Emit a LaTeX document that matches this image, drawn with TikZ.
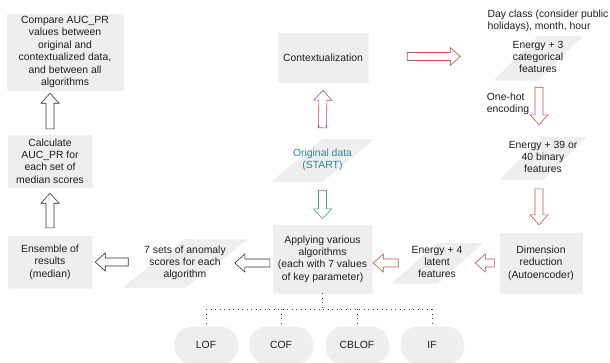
\documentclass[tikz,border=0pt]{standalone}
\usepackage{fontspec}
\setmainfont{Liberation Sans}
\usetikzlibrary{calc,shapes.geometric,shadows}

\newcommand{\blockarrow}[3][arrowblack]{%
  \coordinate (ba-t) at #2;
  \coordinate (ba-p) at #3;
  \coordinate (ba-h) at ($(ba-p)!10pt!(ba-t)$);
  \draw[#1] ($(ba-t)!4pt!90:(ba-p)$) -- ($(ba-h)!4pt!-90:(ba-t)$) -- ($(ba-h)!9pt!-90:(ba-t)$) -- (ba-p)
    -- ($(ba-h)!9pt!90:(ba-t)$) -- ($(ba-h)!4pt!90:(ba-t)$) -- ($(ba-t)!4pt!-90:(ba-p)$) -- cycle;}
\newcommand{\paratext}[1]{\makebox[0pt]{\begin{tabular}{@{}c@{}}#1\end{tabular}}}

\begin{document}
\begin{tikzpicture}[x=1pt,y=-1pt,
  font=\fontsize{10.4}{12.4}\selectfont,
  every node/.style={text=textgray},
  box/.style={rectangle,fill=boxfill,align=center,inner sep=1pt,
    drop shadow={opacity=0.1,shadow xshift=0.8pt,shadow yshift=-0.8pt}},
  para/.style={trapezium,trapezium left angle=63,trapezium right angle=117,trapezium stretches=true,
    fill=boxfill,inner sep=0pt,
    drop shadow={opacity=0.1,shadow xshift=0.8pt,shadow yshift=-0.8pt}},
  algo/.style={rectangle,rounded corners=17pt,minimum width=63pt,minimum height=37pt,fill=boxfill,
    drop shadow={opacity=0.1,shadow xshift=0.8pt,shadow yshift=-0.8pt}},
  tree/.style={draw=black!75,line width=0.9pt,dash pattern=on 0.9pt off 3.6pt},
  arrowblack/.style={draw=black!80,fill=white,line width=0.6pt},
  arrowred/.style={draw=redline,fill=white,line width=0.6pt},
  arrowgreen/.style={draw=greenline,fill=white,line width=0.6pt}]
\definecolor{textgray}{RGB}{30,30,30}
\definecolor{boxfill}{RGB}{238,238,238}
\definecolor{starttext}{RGB}{49,133,155}
\definecolor{redline}{RGB}{192,80,77}
\definecolor{greenline}{RGB}{64,160,130}
\useasboundingbox (0,0) rectangle (610,362);
\node[box,minimum width=116pt,minimum height=76pt] (compare) at (65,52) {Compare AUC\_PR\\values between\\original and\\contextualized data,\\and between all\\algorithms};
\node[box,minimum width=84pt,minimum height=52pt] (calcauc) at (50,161) {Calculate\\AUC\_PR for\\each set of\\median scores};
\node[box,minimum width=84pt,minimum height=52pt] (ensemble) at (50,262) {Ensemble of\\results\\(median)};
\node[para,minimum width=124pt,minimum height=48pt] (scores) at (185,263) {\paratext{7 sets of anomaly\\scores for each\\algorithm}};
\node[box,minimum width=99pt,minimum height=68pt] (applying) at (322.5,259) {Applying various\\algorithms\\(each with 7 values\\of key parameter)};
\node[para,minimum width=90pt,minimum height=40pt] (latent) at (437,263) {\paratext{Energy + 4\\latent\\features}};
\node[box,minimum width=83pt,minimum height=60pt] (dimred) at (541,263) {Dimension\\reduction\\(Autoencoder)};
\node[para,minimum width=86pt,minimum height=42pt] (binary) at (543,158) {\paratext{Energy + 39 or\\40 binary\\features}};
\node[para,minimum width=88pt,minimum height=44pt] (categ) at (538,58) {\paratext{Energy + 3\\categorical\\features}};
\node[align=left] (ctxnote) at (548,21) {Day class (consider public\\holidays), month, hour};
\node[align=left] (onehot) at (508,104) {One-hot\\encoding};
\node[box,minimum width=90pt,minimum height=49pt] (context) at (323,57.5) {Contextualization};
\node[para,minimum width=101pt,minimum height=42pt,text=starttext] (original) at (322.5,160) {\paratext{Original data\\(START)}};
\node[algo] (lof) at (206,345) {LOF};
\node[algo] (cof) at (281,345) {COF};
\node[algo] (cblof) at (357,345) {CBLOF};
\node[algo] (iforest) at (432,345) {IF};
\draw[tree] (applying.south) -- ($(applying.south)+(0,16)$) coordinate (fork);
\draw[tree] (lof.north |- fork) -- (iforest.north |- fork);
\foreach \a in {lof,cof,cblof,iforest}
  \draw[tree] (\a.north |- fork) -- ($(\a.north)+(0,-2)$);
\blockarrow{($(calcauc.north)+(0,-6)$)}{($(calcauc.north |- compare.south)+(0,3)$)}
\blockarrow{($(ensemble.north)+(0,-8)$)}{($(calcauc.south)+(0,6)$)}
\blockarrow{($(ensemble.east)+(36,0)$)}{($(ensemble.east)+(3,0)$)}
\blockarrow{($(applying.west |- scores)+(-3,0)$)}{($(applying.west |- scores)+(-38,0)$)}
\blockarrow[arrowred]{($(applying.east |- latent)+(26,0)$)}{($(applying.east |- latent)+(1,0)$)}
\blockarrow[arrowred]{($(dimred.west)+(-5,0)$)}{($(dimred.west)+(-24,0)$)}
\blockarrow[arrowred]{($(dimred.north)+(-2,-44)$)}{($(dimred.north)+(-2,-8)$)}
\blockarrow[arrowred]{($(dimred.north |- categ.south)+(-2,7)$)}{($(dimred.north |- binary.north)+(-2,-12)$)}
\blockarrow[arrowred]{($(context.east)+(39,-1)$)}{($(context.east)+(92,-1)$)}
\blockarrow[arrowred]{($(original.north)+(0,-11)$)}{($(context.south)+(0,8)$)}
\blockarrow[arrowgreen]{($(original.south)+(0,9)$)}{($(applying.north)+(0,-6)$)}
\end{tikzpicture}
\end{document}
